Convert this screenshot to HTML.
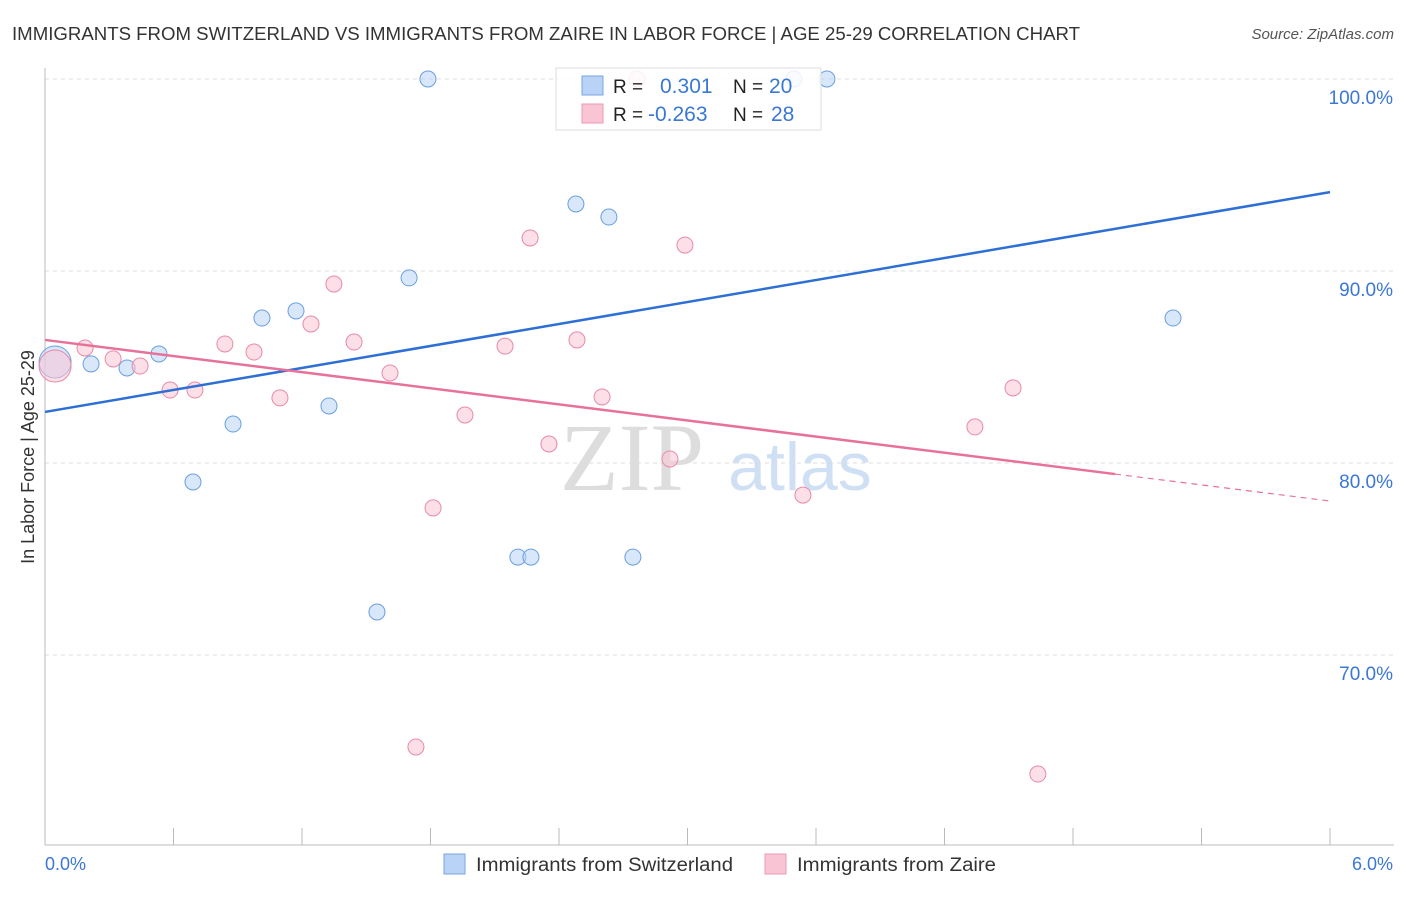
<!DOCTYPE html>
<html><head><meta charset="utf-8"><style>
body{margin:0;background:#fff;font-family:"Liberation Sans",sans-serif;}
</style></head><body>
<svg id="c" width="1406" height="892" xmlns="http://www.w3.org/2000/svg">
<text x="12" y="40" font-size="18" fill="#333" textLength="1068" lengthAdjust="spacingAndGlyphs">IMMIGRANTS FROM SWITZERLAND VS IMMIGRANTS FROM ZAIRE IN LABOR FORCE | AGE 25-29 CORRELATION CHART</text>
<text x="1394" y="39" font-size="15" fill="#555" text-anchor="end" font-style="italic">Source: ZipAtlas.com</text>
<text x="632" y="490" font-size="96" fill="#ddd" text-anchor="middle" font-family="Liberation Serif">ZIP</text>
<text x="800" y="490" font-size="68" fill="#cfe0f5" text-anchor="middle">atlas</text>
<g id="grid"></g><g id="axes"></g><g id="marks"></g>
<text transform="translate(34,457) rotate(-90)" font-size="18" fill="#333" text-anchor="middle">In Labor Force | Age 25-29</text>
<text x="45" y="870" font-size="18" fill="#3a78d4">0.0%</text>
<text x="1393" y="870" font-size="18" fill="#3a78d4" text-anchor="end">6.0%</text>
<g>
<rect x="556" y="68" width="265" height="62" fill="#fff" fill-opacity="0.85" stroke="#ddd"/>
<rect x="582" y="76" width="21" height="19" fill="#b8d3f5" stroke="#7aa6e4"/>
<rect x="582" y="104" width="21" height="19" fill="#f9c4d4" stroke="#ea9ab4"/>
<text x="613" y="93" font-size="19" fill="#222">R =</text><text x="660" y="93" font-size="21" fill="#3a78d4">0.301</text>
<text x="733" y="93" font-size="19" fill="#222">N =</text><text x="769" y="93" font-size="21" fill="#3a78d4">20</text>
<text x="613" y="121" font-size="19" fill="#222">R =</text><text x="648" y="121" font-size="21" fill="#3a78d4">-0.263</text>
<text x="733" y="121" font-size="19" fill="#222">N =</text><text x="771" y="121" font-size="21" fill="#3a78d4">28</text>
</g>
<g>
<rect x="444" y="854" width="21" height="20" fill="#b8d3f5" stroke="#7aa6e4"/>
<text x="476" y="871" font-size="19" fill="#333" textLength="257" lengthAdjust="spacingAndGlyphs">Immigrants from Switzerland</text>
<rect x="765" y="854" width="21" height="20" fill="#f9c4d4" stroke="#ea9ab4"/>
<text x="797" y="871" font-size="19" fill="#333" textLength="199" lengthAdjust="spacingAndGlyphs">Immigrants from Zaire</text>
</g>
</svg>
<script>
const blueX=[0.047,0.215,0.383,0.532,0.691,0.878,1.013,1.172,1.326,1.550,1.700,1.788,2.208,2.269,2.479,2.633,2.745,3.497,3.651,5.267];
const blueY=[85.26,85.16,84.95,85.68,79.01,82.03,87.55,87.92,82.97,72.24,89.64,100,75.10,75.10,93.49,92.81,75.10,100,100,87.55];
const pinkX=[0.047,0.187,0.318,0.444,0.584,0.700,0.840,0.976,1.097,1.242,1.349,1.443,1.611,1.732,1.812,1.961,2.148,2.265,2.353,2.484,2.601,2.764,2.918,2.988,3.539,4.342,4.520,4.636];
const pinkY=[85.05,85.99,85.42,85.05,83.80,83.80,86.20,85.78,83.39,87.24,89.32,86.30,84.69,65.21,77.66,82.50,86.09,91.72,80.99,86.41,83.44,100,80.21,91.35,78.33,81.88,83.91,63.80];
const blueLine=[82.66,94.11];
const pinkLine=[86.41,78.02];
const pinkSolidEnd=4.996;
const yTicks=[100,90,80,70];
const yTickLabels=["100.0%","90.0%","80.0%","70.0%"];
const xTicks=[0,0.6,1.2,1.8,2.4,3,3.6,4.2,4.8,5.4,6];
const X=v=>45+v/6*1285, Y=v=>79+(100-v)*19.2;
const NS="http://www.w3.org/2000/svg";
function mk(t,a,p){const e=document.createElementNS(NS,t);for(const k in a)e.setAttribute(k,a[k]);p.appendChild(e);return e;}
const grid=document.getElementById('grid'),axes=document.getElementById('axes'),marks=document.getElementById('marks');
yTicks.forEach((t,i)=>{
 const l=mk('line',{x1:45,x2:1394,y1:Y(t),y2:Y(t),stroke:'#ddd','stroke-dasharray':'4,4'},grid);
 
 
 const tx=mk('text',{x:1393,y:Y(t)+25,'font-size':19,fill:'#3a78d4','text-anchor':'end'},grid);
 tx.textContent=yTickLabels[i];
 
 
});
const ya=mk('line',{x1:45,x2:45,y1:68,y2:845,stroke:'#bbb'},axes);


const xa=mk('line',{x1:45,x2:1394,y1:845,y2:845,stroke:'#bbb'},axes);


xTicks.forEach(t=>{
 const l=mk('line',{x1:X(t),x2:X(t),y1:828,y2:845,stroke:'#bbb'},axes);
 
 
});
function pts(xs,ys,fill,stroke,name){
 xs.forEach((x,i)=>{
  const c=mk('circle',{cx:X(x),cy:Y(ys[i]),r:i===0?16:8,fill:fill,'fill-opacity':0.55,stroke:stroke,'stroke-width':1},marks);
  
  
 });
}
pts(blueX,blueY,'#b8d3f5','#6a9fe0','point-switzerland');
pts(pinkX,pinkY,'#f9c4d4','#e88aa8','point-zaire');
const bl=mk('line',{x1:X(0),y1:Y(blueLine[0]),x2:X(6),y2:Y(blueLine[1]),stroke:'#2d6fd4','stroke-width':2.5},marks);


const py=x=>pinkLine[0]+(pinkLine[1]-pinkLine[0])*x/6;
const pl=mk('line',{x1:X(0),y1:Y(pinkLine[0]),x2:X(pinkSolidEnd),y2:Y(py(pinkSolidEnd)),stroke:'#e8719a','stroke-width':2.5},marks);


const pd=mk('line',{x1:X(pinkSolidEnd),y1:Y(py(pinkSolidEnd)),x2:X(6),y2:Y(pinkLine[1]),stroke:'#e8719a','stroke-width':1.2,'stroke-dasharray':'6,5'},marks);


</script>
</body></html>
